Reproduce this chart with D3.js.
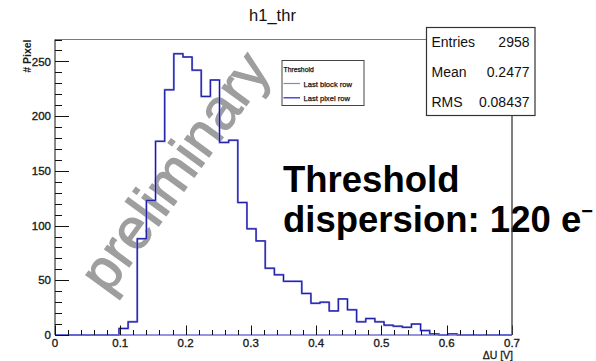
<!DOCTYPE html>
<html>
<head>
<meta charset="utf-8">
<script src="https://cdn.jsdelivr.net/npm/d3@7"></script>
<style>
  html, body { margin: 0; padding: 0; background: #fff; }
  svg { display: block; font-family: "Liberation Sans", Arial, sans-serif; }
</style>
</head>
<body>
<svg id="chart" width="596" height="361"></svg>
<script>
// ---- data ----
const title = "h1_thr";
const xRange = [0, 0.7];
const nBins = 50;
const yMax = 270;
const blockRow = [0,0,0,0,0,0,0,6,12,88,123,177,224,257,254,242,218,233,176,178,121,97,86,61,55,49,49,38,29,30,22,33,23,12,15,12,9,8,7,10,4,1,0,1,0,0,0,0,0,0];
const pixelRow = [0,0,0,0,0,0,0,6,12,88,123,177,224,257,254,242,218,233,176,178,121,97,86,61,55,49,49,38,29,30,22,33,23,12,15,12,9,8,7,10,4,1,0,1,0,0,0,0,0,0];
const xTicks = [0, 0.1, 0.2, 0.3, 0.4, 0.5, 0.6, 0.7];
const yTicks = [0, 50, 100, 150, 200, 250];
const legendTitle = "Threshold";
const legendLabels = ["Last block row", "Last pixel row"];
const statLabels = ["Entries", "Mean", "RMS"];
const statValues = ["2958", "0.2477", "0.08437"];
const xTitle = "\u0394U [V]";
const yTitle = "# Pixel";

// ---- layout ----
const svg = d3.select("#chart");
const L = 55, R = 512, T = 39.5, B = 335;
const x = d3.scaleLinear().domain(xRange).range([L, R]);
const y = d3.scaleLinear().domain([0, yMax]).range([B, T]);
const binW = (xRange[1] - xRange[0]) / nBins;

function histPoints(vals) {
  const pts = [{x: xRange[0], y: 0}];
  vals.forEach((v, i) => {
    pts.push({x: xRange[0] + i * binW, y: v});
    pts.push({x: xRange[0] + (i + 1) * binW, y: v});
  });
  pts.push({x: xRange[1], y: 0});
  return pts;
}
const line = d3.line().x(d => x(d.x)).y(d => y(d.y));

// title
svg.append("text").attr("x", 272.5).attr("y", 20.5).attr("text-anchor", "middle")
  .attr("font-size", 16.5).attr("fill", "#111").text(title);

// watermark
svg.append("text")
  .attr("transform", "translate(190,183) rotate(-54)")
  .attr("text-anchor", "middle").attr("font-size", 57).attr("fill", "#9e9e9e")
  .attr("stroke", "#9e9e9e").attr("stroke-width", 1.2)
  .text("preliminary");

// histograms
svg.append("path").attr("d", line(histPoints(blockRow)))
  .attr("fill", "none").attr("stroke", "#7f7fd8").attr("stroke-width", 2);
svg.append("path").attr("d", line(histPoints(pixelRow)))
  .attr("fill", "none").attr("stroke", "#1616a6").attr("stroke-width", 1);

// frame
svg.append("line").attr("x1", L).attr("x2", R).attr("y1", T).attr("y2", T)
  .attr("stroke", "#7a7a7a").attr("stroke-width", 1.2);
svg.append("line").attr("x1", R).attr("x2", R).attr("y1", T).attr("y2", B)
  .attr("stroke", "#555").attr("stroke-width", 1);
svg.append("line").attr("x1", L).attr("x2", L).attr("y1", T).attr("y2", B)
  .attr("stroke", "#111").attr("stroke-width", 1);
// baseline (histogram zero line over the axis)
svg.append("line").attr("x1", L).attr("x2", R).attr("y1", B).attr("y2", B)
  .attr("stroke", "#7070d6").attr("stroke-width", 1.6);

// y axis ticks
const yMinor = d3.range(0, yMax + 0.001, 10);
svg.append("g").selectAll("line").data(yMinor).join("line")
  .attr("x1", L).attr("x2", d => L + (d % 50 === 0 ? 14 : 7))
  .attr("y1", d => Math.round(y(d)) + 0.5).attr("y2", d => Math.round(y(d)) + 0.5)
  .attr("stroke", "#111").attr("stroke-width", 1);
svg.append("g").selectAll("text").data(yTicks).join("text")
  .attr("x", L - 4).attr("y", d => y(d)).attr("dy", "0.36em")
  .attr("text-anchor", "end").attr("font-size", 11.5).attr("fill", "#1a1a1a")
  .attr("stroke", "#1a1a1a").attr("stroke-width", 0.35)
  .text(d => d);

// x axis ticks
const xMinor = d3.range(0, 36).map(i => i * 0.02);
svg.append("g").selectAll("line").data(xMinor).join("line")
  .attr("x1", d => Math.round(x(d)) + 0.5).attr("x2", d => Math.round(x(d)) + 0.5)
  .attr("y1", B).attr("y2", (d, i) => B - (i % 5 === 0 ? 9.5 : 5))
  .attr("stroke", "#111").attr("stroke-width", 1);
svg.append("g").selectAll("text").data(xTicks).join("text")
  .attr("x", d => x(d)).attr("y", 346.7)
  .attr("text-anchor", "middle").attr("font-size", 11.5).attr("fill", "#1a1a1a")
  .attr("stroke", "#1a1a1a").attr("stroke-width", 0.35)
  .text(d => d === 0 ? "0" : d3.format(".1f")(d));

// axis titles
svg.append("text").attr("x", 513).attr("y", 359).attr("text-anchor", "end")
  .attr("font-size", 10.5).attr("fill", "#1a1a1a")
  .attr("stroke", "#1a1a1a").attr("stroke-width", 0.3).text(xTitle);
svg.append("text").attr("transform", "translate(31,39.5) rotate(-90)")
  .attr("text-anchor", "end").attr("font-size", 10.5).attr("font-weight", "bold")
  .attr("fill", "#1a1a1a").text(yTitle);

// legend
const lg = svg.append("g");
lg.append("rect").attr("x", 282).attr("y", 60.5).attr("width", 82).attr("height", 45)
  .attr("fill", "#fff").attr("stroke", "#444").attr("stroke-width", 1);
lg.append("text").attr("x", 283.5).attr("y", 71.5).attr("font-size", 6.8)
  .attr("fill", "#111").attr("stroke", "#111").attr("stroke-width", 0.25).text(legendTitle);
const legColors = ["#8484dc", "#1d1dea"];
legendLabels.forEach((lab, i) => {
  const yy = 83.5 + i * 14.3;
  lg.append("line").attr("x1", 283.5).attr("x2", 300).attr("y1", yy).attr("y2", yy)
    .attr("stroke", legColors[i]).attr("stroke-width", 1.2);
  lg.append("text").attr("x", 303.5).attr("y", yy + 3).attr("font-size", 7.6)
    .attr("fill", "#111").attr("stroke", "#111").attr("stroke-width", 0.25).text(lab);
});

// stats box
const sb = svg.append("g");
sb.append("rect").attr("x", 426.5).attr("y", 27.5).attr("width", 108.5).attr("height", 88)
  .attr("fill", "#fff").attr("stroke", "#333").attr("stroke-width", 1.2);
statLabels.forEach((lab, i) => {
  const yy = 46.5 + i * 30;
  sb.append("text").attr("x", 431.5).attr("y", yy).attr("font-size", 14)
    .attr("fill", "#111").text(lab);
  sb.append("text").attr("x", 529.5).attr("y", yy).attr("font-size", 14)
    .attr("text-anchor", "end").attr("fill", "#111").text(statValues[i]);
});

// annotation
const ann = svg.append("text").attr("font-size", 36.5).attr("font-weight", "bold").attr("fill", "#000");
ann.append("tspan").attr("x", 283).attr("y", 191.7).text("Threshold");
ann.append("tspan").attr("x", 283).attr("y", 231.5).text("dispersion: 120 e");
ann.append("tspan").attr("dy", -14).attr("font-size", 20).text("\u2212");

// right frame line drawn over annotation
svg.append("line").attr("x1", R).attr("x2", R).attr("y1", 115.5).attr("y2", B)
  .attr("stroke", "#555").attr("stroke-width", 1);
</script>
</body>
</html>
